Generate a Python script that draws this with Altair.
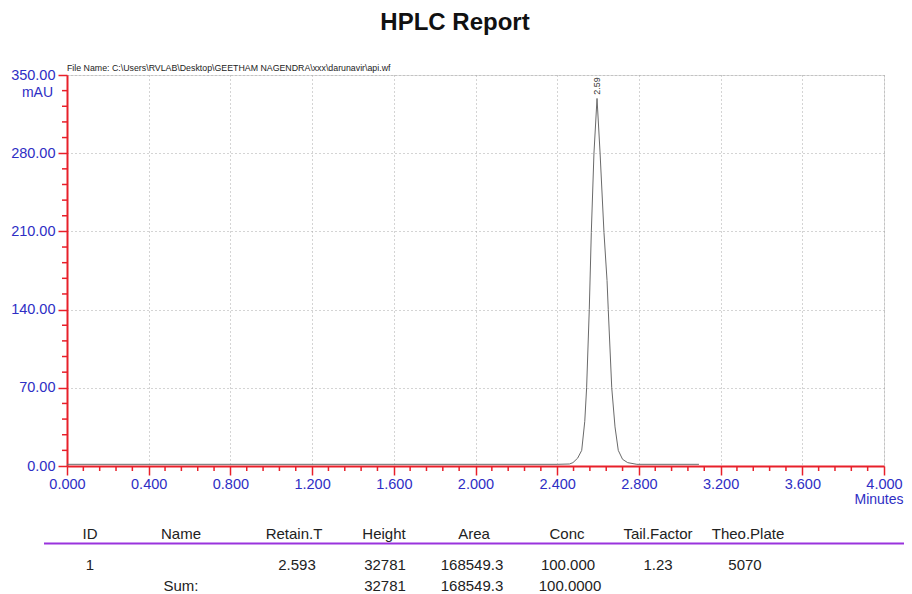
import altair as alt
import pandas as pd

# ---- chromatogram data (minutes, mAU) ----
times = [0.000, 2.400, 2.460, 2.477, 2.500, 2.520, 2.535, 2.544, 2.557, 2.567, 2.580,
         2.595, 2.610, 2.629, 2.644, 2.650, 2.667, 2.683, 2.699, 2.720, 2.745, 2.790, 3.094]
mau = [1.5, 1.5, 1.8, 3.0, 7.0, 14.0, 40.0, 70.0, 140.0, 209.0, 280.0,
       329.0, 280.0, 209.0, 166.0, 140.0, 70.0, 35.0, 14.0, 6.0, 3.0, 1.5, 1.5]

peak_rt = [2.593]
peak_label = ["2.59"]

x_major = [0.0, 0.4, 0.8, 1.2, 1.6, 2.0, 2.4, 2.8, 3.2, 3.6, 4.0]
y_major = [0, 70, 140, 210, 280, 350]
x_minor = [round(i * 0.08, 2) for i in range(51) if i % 5 != 0]
y_minor = [i * 14 for i in range(26) if i % 5 != 0]

# ---- report table ----
headers = ["ID", "Name", "Retain.T", "Height", "Area", "Conc", "Tail.Factor", "Theo.Plate"]
row1 = ["1", "", "2.593", "32781", "168549.3", "100.000", "1.23", "5070"]
row_sum = ["", "Sum:", "", "32781", "168549.3", "100.0000", "", ""]

title_text = "HPLC Report"
file_text = "File Name: C:\\Users\\RVLAB\\Desktop\\GEETHAM NAGENDRA\\xxx\\darunavir\\api.wf"

# ---- layout (pixels, relative to plot area) ----
W, H = 817, 391
head_x = [23, 114, 227, 317, 407, 500, 591, 681]
val_x = [23, 114, 230, 318, 405, 501, 591, 678]
sum_x = [23, 114, 230, 318, 405, 503, 591, 678]
row_y = [459, 490, 511]

BLUE = "#2e2ec4"
RED = "#e8202a"
FONT = "Liberation Sans"

cells = []
for i, t in enumerate(headers):
    cells.append({"txt": t, "px": head_x[i], "py": row_y[0]})
for i, t in enumerate(row1):
    if t:
        cells.append({"txt": t, "px": val_x[i], "py": row_y[1]})
for i, t in enumerate(row_sum):
    if t:
        cells.append({"txt": t, "px": sum_x[i], "py": row_y[2]})
table_df = pd.DataFrame(cells)

trace_df = pd.DataFrame({"t": times, "v": mau})
peak_df = pd.DataFrame({"t": peak_rt, "lab": peak_label})
xminor_df = pd.DataFrame({"t": x_minor})
yminor_df = pd.DataFrame({"v": y_minor})

xscale = alt.Scale(domain=[0, 4], nice=False, zero=False)
yscale = alt.Scale(domain=[0, 350], nice=False, zero=True)

xaxis = alt.Axis(values=x_major, format=".3f", title="Minutes",
                 labelColor=BLUE, labelFont=FONT, labelFontSize=14.5, labelPadding=2,
                 domainColor=RED, domainWidth=2, tickColor=RED, tickSize=9, tickWidth=1.5,
                 grid=True, gridColor="#a8a8a8", gridDash=[1, 3], gridWidth=1,
                 titleColor=BLUE, titleFont=FONT, titleFontSize=14, titleFontWeight="normal",
                 titleX=W + 19, titleY=33, titleAlign="right", titleBaseline="middle",
                 labelFlush=False)
yaxis = alt.Axis(values=y_major, format=".2f", title="mAU", titleAngle=0,
                 labelColor=BLUE, labelFont=FONT, labelFontSize=14.5, labelPadding=3,
                 domainColor=RED, domainWidth=2, tickColor=RED, tickSize=9, tickWidth=1.5,
                 grid=True, gridColor="#a8a8a8", gridDash=[1, 3], gridWidth=1,
                 titleColor=BLUE, titleFont=FONT, titleFontSize=14, titleFontWeight="normal",
                 titleX=-30, titleY=17, titleAlign="center", titleBaseline="middle",
                 labelFlush=False)

trace = alt.Chart(trace_df).mark_line(color="#6a6a6a", strokeWidth=1).encode(
    x=alt.X("t:Q", scale=xscale, axis=xaxis),
    y=alt.Y("v:Q", scale=yscale, axis=yaxis),
)

peak_text = alt.Chart(peak_df).mark_text(angle=270, fontSize=9, font=FONT, color="#333",
                                         align="center", baseline="middle").encode(
    x=alt.X("t:Q", scale=xscale),
    y=alt.value(11),
    text="lab:N",
)

xminor = alt.Chart(xminor_df).mark_rule(color=RED, strokeWidth=1.5).encode(
    x=alt.X("t:Q", scale=xscale),
    y=alt.value(H),
    y2=alt.value(H + 5),
)
yminor = alt.Chart(yminor_df).mark_rule(color=RED, strokeWidth=1.5).encode(
    y=alt.Y("v:Q", scale=yscale),
    x=alt.value(-5),
    x2=alt.value(0),
)

title = alt.Chart(pd.DataFrame({"txt": [title_text]})).mark_text(
    fontSize=24, fontWeight="bold", font=FONT, color="#111", align="center", baseline="middle"
).encode(x=alt.value(388), y=alt.value(-52), text="txt:N")

fname = alt.Chart(pd.DataFrame({"txt": [file_text]})).mark_text(
    fontSize=8.8, font=FONT, color="#222",
    align="left", baseline="middle"
).encode(x=alt.value(0), y=alt.value(-7), text="txt:N")

table = alt.Chart(table_df).mark_text(
    fontSize=15, font=FONT, color="#222", align="center", baseline="middle"
).encode(
    x=alt.X("px:Q", scale=None),
    y=alt.Y("py:Q", scale=None),
    text="txt:N",
)

sep = alt.Chart(pd.DataFrame({"a": [0]})).mark_rule(color="#9933dd", strokeWidth=2).encode(
    x=alt.value(-23), x2=alt.value(841), y=alt.value(468.5)
)

chart = alt.layer(trace, xminor, yminor, peak_text, title, fname, sep, table).properties(
    width=W, height=H,
    autosize=alt.AutoSizeParams(type="none"),
    padding={"left": 59, "top": 67, "right": 20, "bottom": 128},
).configure_view(stroke=RED, strokeWidth=2).configure(background="white")

chart.save("out.html", embed_options={"renderer": "svg", "actions": False})
